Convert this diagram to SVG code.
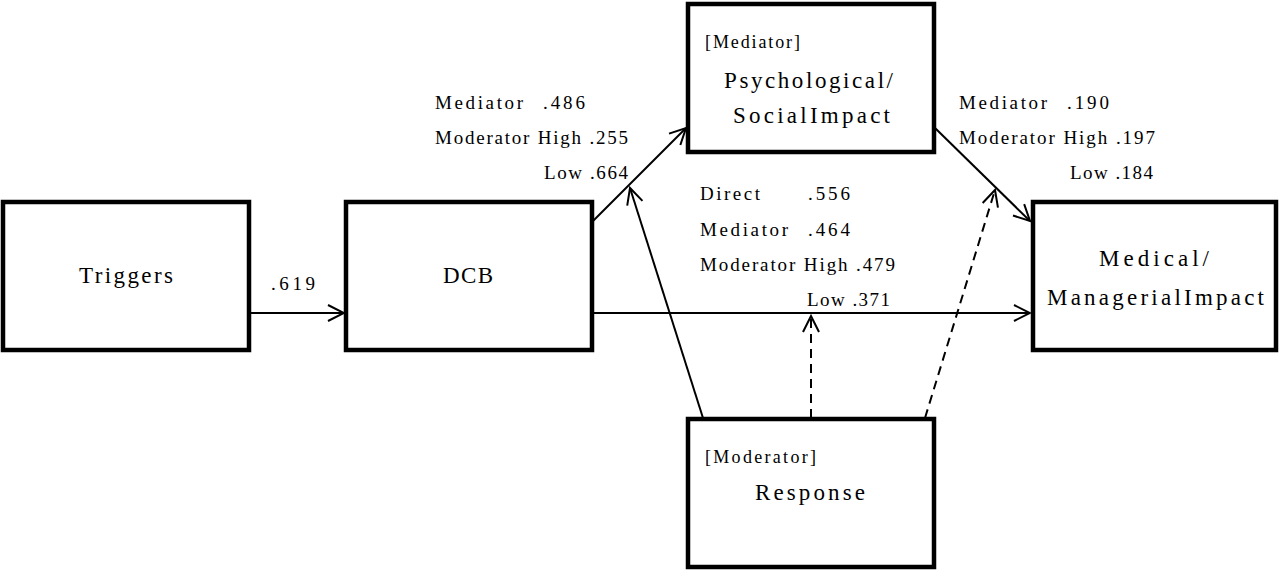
<svg xmlns="http://www.w3.org/2000/svg" width="1280" height="572" viewBox="0 0 1280 572">
<style>
.box{fill:#fff;stroke:#000;stroke-width:4.5}
.main{font-family:"Liberation Serif",serif;font-size:23px;fill:#000}
.lab{font-family:"Liberation Serif",serif;font-size:19px;fill:#000}
.tag{font-family:"Liberation Serif",serif;font-size:18px;fill:#000}
.c{fill:none;stroke:#000;stroke-width:2}
.d{stroke-dasharray:9,6}
</style>
<defs>
<marker id="ah" viewBox="0 0 20 20" refX="18" refY="10" markerWidth="20" markerHeight="20" markerUnits="userSpaceOnUse" orient="auto">
<path d="M2,2 L18,10 L2,18" fill="none" stroke="#000" stroke-width="2"/>
</marker>
</defs>
<rect width="1280" height="572" fill="#fff"/>
<g id="connectors">
<line class="c" x1="250" y1="313" x2="344" y2="313" marker-end="url(#ah)"/>
<line class="c" x1="592" y1="222" x2="686" y2="128" marker-end="url(#ah)"/>
<line class="c" x1="592" y1="313" x2="1030" y2="313" marker-end="url(#ah)"/>
<line class="c" x1="935" y1="128" x2="1030" y2="221" marker-end="url(#ah)"/>
<line class="c" x1="703" y1="418" x2="630" y2="188" marker-end="url(#ah)"/>
<line class="c d" x1="811" y1="418" x2="811" y2="316" marker-end="url(#ah)"/>
<line class="c d" x1="925" y1="418" x2="995" y2="190" marker-end="url(#ah)"/>
</g>
<g id="triggers">
<rect class="box" x="3" y="202" width="246" height="148"/>
<text class="main" x="126" y="283" text-anchor="middle" textLength="94" lengthAdjust="spacing">Triggers</text>
</g>
<g id="dcb">
<rect class="box" x="346" y="202" width="246" height="148"/>
<text class="main" x="468" y="283" text-anchor="middle" textLength="50" lengthAdjust="spacing">DCB</text>
</g>
<g id="psych">
<rect class="box" x="688" y="4" width="246" height="148"/>
<text class="tag" x="705" y="48" textLength="95" lengthAdjust="spacing">[Mediator]</text>
<text class="main" x="724" y="88" textLength="169" lengthAdjust="spacing">Psychological/</text>
<text class="main" x="733" y="123" textLength="157" lengthAdjust="spacing">SocialImpact</text>
</g>
<g id="medical">
<rect class="box" x="1033" y="202" width="243" height="148"/>
<text class="main" x="1099" y="266" textLength="110" lengthAdjust="spacing">Medical/</text>
<text class="main" x="1047" y="305" textLength="217" lengthAdjust="spacing">ManagerialImpact</text>
</g>
<g id="response">
<rect class="box" x="688" y="419" width="246" height="148"/>
<text class="tag" x="705" y="463" textLength="111" lengthAdjust="spacing">[Moderator]</text>
<text class="main" x="755" y="500" textLength="110" lengthAdjust="spacing">Response</text>
</g>
<g id="labels">
<text class="lab" x="271" y="290" textLength="44" lengthAdjust="spacing">.619</text>
<text class="lab" x="435" y="109" textLength="88" lengthAdjust="spacing">Mediator</text>
<text class="lab" x="543" y="109" textLength="42" lengthAdjust="spacing">.486</text>
<text class="lab" x="435" y="144" textLength="193" lengthAdjust="spacing">Moderator High .255</text>
<text class="lab" x="544" y="179" textLength="84" lengthAdjust="spacing">Low .664</text>
<text class="lab" x="700" y="200" textLength="60" lengthAdjust="spacing">Direct</text>
<text class="lab" x="808" y="200" textLength="42" lengthAdjust="spacing">.556</text>
<text class="lab" x="700" y="236" textLength="88" lengthAdjust="spacing">Mediator</text>
<text class="lab" x="808" y="236" textLength="42" lengthAdjust="spacing">.464</text>
<text class="lab" x="700" y="271" textLength="195" lengthAdjust="spacing">Moderator High .479</text>
<text class="lab" x="807" y="306" textLength="83" lengthAdjust="spacing">Low .371</text>
<text class="lab" x="959" y="109" textLength="88" lengthAdjust="spacing">Mediator</text>
<text class="lab" x="1067" y="109" textLength="42" lengthAdjust="spacing">.190</text>
<text class="lab" x="959" y="144" textLength="196" lengthAdjust="spacing">Moderator High .197</text>
<text class="lab" x="1070" y="179" textLength="83" lengthAdjust="spacing">Low .184</text>
</g>
</svg>
